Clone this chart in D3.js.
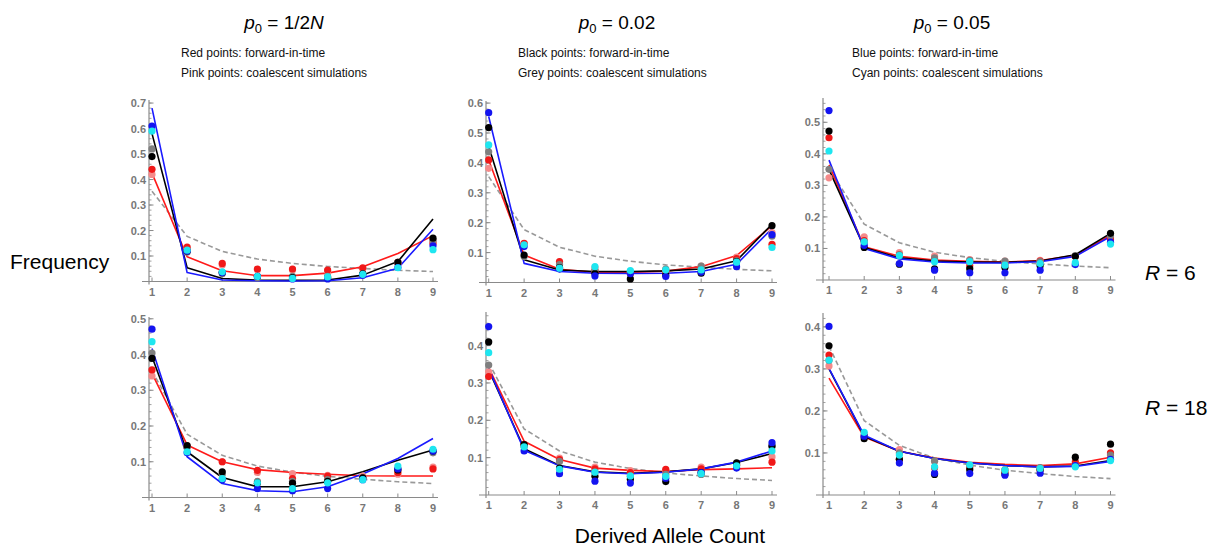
<!DOCTYPE html>
<html><head><meta charset="utf-8">
<script src="https://cdn.jsdelivr.net/npm/d3@7"></script>
<style>
html,body{margin:0;padding:0;background:#fff;}
svg{display:block;font-family:"Liberation Sans",Arial,Helvetica,sans-serif;}
</style></head>
<body>
<svg id="chart" width="1229" height="552"></svg>
<script>
// ---------- DATA ----------
const counts = [1,2,3,4,5,6,7,8,9];
const neutral = [0.354,0.177,0.118,0.088,0.071,0.059,0.051,0.044,0.039];

const colTitles = [["1/2", "N"], ["0.02", ""], ["0.05", ""]];
const subtitle1 = ["Red points: forward-in-time", "Black points: forward-in-time", "Blue points: forward-in-time"];
const subtitle2 = ["Pink points: coalescent simulations", "Grey points: coalescent simulations", "Cyan points: coalescent simulations"];
const rowLabels = ["6", "18"];

const yTicks = [
  [0.1,0.2,0.3,0.4,0.5,0.6,0.7],
  [0.1,0.2,0.3,0.4,0.5,0.6],
  [0.1,0.2,0.3,0.4,0.5],
  [0.1,0.2,0.3,0.4,0.5],
  [0.1,0.2,0.3,0.4],
  [0.1,0.2,0.3,0.4]
];
const yMax = [0.712, 0.607, 0.577, 0.505, 0.49, 0.433];

const redLine = [
  [0.425,0.097,0.042,0.023,0.023,0.033,0.058,0.11,0.18],
  [0.41,0.092,0.044,0.034,0.034,0.038,0.053,0.09,0.19],
  [0.365,0.105,0.075,0.063,0.059,0.057,0.062,0.078,0.142],
  [0.347,0.147,0.1,0.078,0.07,0.065,0.061,0.06,0.06],
  [0.341,0.144,0.095,0.072,0.066,0.063,0.068,0.07,0.073],
  [0.278,0.138,0.104,0.088,0.078,0.073,0.07,0.074,0.09]
];
const blackLine = [
  [0.58,0.054,0.012,0.005,0.005,0.006,0.025,0.078,0.245],
  [0.455,0.076,0.042,0.037,0.037,0.039,0.045,0.073,0.195],
  [0.35,0.103,0.07,0.06,0.057,0.056,0.06,0.08,0.148],
  [0.394,0.128,0.056,0.03,0.03,0.044,0.072,0.104,0.133],
  [0.335,0.124,0.079,0.062,0.058,0.062,0.07,0.087,0.111],
  [0.3,0.14,0.104,0.087,0.076,0.07,0.067,0.069,0.082]
];
const blueLine = [
  [0.68,0.035,0.006,0.003,0.002,0.003,0.015,0.052,0.205],
  [0.555,0.064,0.037,0.031,0.03,0.031,0.037,0.061,0.18],
  [0.38,0.1,0.067,0.057,0.054,0.054,0.058,0.075,0.138],
  [0.417,0.114,0.039,0.019,0.016,0.03,0.066,0.109,0.165],
  [0.339,0.12,0.078,0.061,0.057,0.061,0.07,0.088,0.118],
  [0.301,0.142,0.104,0.087,0.076,0.07,0.067,0.068,0.08]
];

const redPts = [
  [0.44,0.135,0.071,0.049,0.049,0.045,0.054,0.075,0.15],
  [0.41,0.131,0.07,0.04,0.03,0.035,0.045,0.08,0.128],
  [0.451,0.125,0.08,0.065,0.045,0.05,0.06,0.075,0.13],
  [0.357,0.142,0.1,0.076,0.053,0.06,0.055,0.07,0.08],
  [0.317,0.135,0.095,0.07,0.06,0.069,0.07,0.08,0.088],
  [0.333,0.14,0.085,0.065,0.065,0.055,0.06,0.079,0.1]
];
const pinkPts = [
  [0.42,0.13,0.065,0.045,0.045,0.04,0.05,0.07,0.16],
  [0.382,0.13,0.065,0.05,0.035,0.04,0.055,0.085,0.167],
  [0.324,0.137,0.087,0.076,0.065,0.06,0.062,0.075,0.135],
  [0.34,0.145,0.1,0.07,0.067,0.062,0.06,0.065,0.085],
  [0.33,0.13,0.099,0.075,0.065,0.065,0.075,0.08,0.102],
  [0.307,0.145,0.108,0.08,0.07,0.06,0.065,0.07,0.095]
];
const blackPts = [
  [0.49,0.12,0.035,0.02,0.015,0.015,0.03,0.075,0.17],
  [0.518,0.092,0.05,0.03,0.012,0.025,0.031,0.07,0.19],
  [0.472,0.103,0.05,0.035,0.036,0.04,0.045,0.075,0.148],
  [0.389,0.145,0.072,0.04,0.04,0.045,0.055,0.077,0.13],
  [0.41,0.135,0.072,0.05,0.042,0.036,0.06,0.086,0.13],
  [0.355,0.134,0.085,0.049,0.06,0.05,0.06,0.09,0.121]
];
const greyPts = [
  [0.52,0.115,0.03,0.015,0.02,0.02,0.03,0.075,0.16],
  [0.437,0.087,0.06,0.04,0.035,0.045,0.055,0.072,0.155],
  [0.351,0.12,0.08,0.07,0.062,0.06,0.058,0.077,0.14],
  [0.404,0.14,0.065,0.045,0.045,0.05,0.055,0.08,0.125],
  [0.348,0.13,0.09,0.06,0.05,0.055,0.055,0.08,0.133],
  [0.32,0.14,0.1,0.081,0.07,0.06,0.065,0.07,0.095]
];
const bluePts = [
  [0.61,0.12,0.035,0.02,0.01,0.01,0.025,0.055,0.14],
  [0.568,0.12,0.045,0.022,0.03,0.02,0.035,0.053,0.16],
  [0.537,0.11,0.052,0.031,0.023,0.023,0.031,0.049,0.12],
  [0.471,0.125,0.05,0.025,0.019,0.025,0.05,0.08,0.13],
  [0.451,0.118,0.057,0.037,0.032,0.045,0.06,0.072,0.14],
  [0.401,0.14,0.076,0.052,0.051,0.047,0.052,0.07,0.085]
];
const cyanPts = [
  [0.59,0.123,0.038,0.02,0.012,0.018,0.028,0.054,0.125],
  [0.46,0.126,0.048,0.053,0.04,0.042,0.042,0.068,0.117],
  [0.409,0.121,0.077,0.058,0.058,0.047,0.052,0.055,0.114],
  [0.436,0.128,0.053,0.041,0.025,0.041,0.05,0.088,0.135],
  [0.381,0.129,0.069,0.061,0.051,0.05,0.057,0.078,0.118],
  [0.321,0.149,0.095,0.067,0.072,0.059,0.063,0.067,0.082]
];

// ---------- LAYOUT ----------
const layout = [
  {ax:149, x1:152, x9:433, y0:281.5, yt:100},
  {ax:486, x1:488.7, x9:772, y0:282.5, yt:101},
  {ax:823, x1:829, x9:1110.5, y0:280, yt:98},
  {ax:149, x1:152, x9:433, y0:497.5, yt:317},
  {ax:486, x1:488.7, x9:772, y0:495, yt:312},
  {ax:823, x1:829, x9:1110.5, y0:495, yt:313}
];

const svg = d3.select("#chart");
const axisCol = "#8a8a8a";
const labCol = "#777";

const lineSeries = [
  {data: redLine, color: "#ff1a1a"},
  {data: blackLine, color: "#000000"},
  {data: blueLine, color: "#1a1aff"}
];
const ptSeries = [
  {data: pinkPts, color: "#f58a8a"},
  {data: redPts, color: "#f01818"},
  {data: greyPts, color: "#7f7f7f"},
  {data: blackPts, color: "#000000"},
  {data: bluePts, color: "#1414f0"},
  {data: cyanPts, color: "#1ee6f0"}
];

layout.forEach((L, i) => {
  const g = svg.append("g");
  const x = d3.scaleLinear().domain([1, 9]).range([L.x1, L.x9]);
  const y = d3.scaleLinear().domain([0, yMax[i]]).range([L.y0, L.yt]);

  g.append("line").attr("x1", L.ax - 7).attr("x2", L.x9 + 5).attr("y1", L.y0).attr("y2", L.y0)
    .attr("stroke", axisCol).attr("stroke-width", 1.2);
  g.append("line").attr("x1", L.ax).attr("x2", L.ax).attr("y1", L.y0 + 3).attr("y2", L.yt)
    .attr("stroke", axisCol).attr("stroke-width", 1.2);

  counts.forEach(c => {
    g.append("line").attr("x1", x(c)).attr("x2", x(c)).attr("y1", L.y0).attr("y2", L.y0 - 4)
      .attr("stroke", axisCol).attr("stroke-width", 1);
    g.append("text").attr("x", x(c)).attr("y", L.y0 + 14).attr("text-anchor", "middle")
      .attr("font-size", 11).attr("font-weight", "bold").attr("fill", labCol).text(c);
  });
  const minors = d3.range(0.02, yMax[i], 0.02);
  minors.forEach(v => {
    g.append("line").attr("x1", L.ax).attr("x2", L.ax + 2.5).attr("y1", y(v)).attr("y2", y(v))
      .attr("stroke", axisCol).attr("stroke-width", 0.8);
  });
  yTicks[i].forEach(v => {
    g.append("line").attr("x1", L.ax).attr("x2", L.ax + 4.5).attr("y1", y(v)).attr("y2", y(v))
      .attr("stroke", axisCol).attr("stroke-width", 1);
    g.append("text").attr("x", L.ax - 3).attr("y", y(v) + 4).attr("text-anchor", "end")
      .attr("font-size", 11).attr("font-weight", "bold").attr("fill", labCol).text(d3.format(".1f")(v));
  });

  const line = d3.line().x((d, k) => x(counts[k])).y(d => y(d));
  g.append("path").datum(neutral).attr("d", line).attr("fill", "none")
    .attr("stroke", "#999").attr("stroke-width", 1.6).attr("stroke-dasharray", "5,3");
  lineSeries.forEach(s => {
    g.append("path").datum(s.data[i]).attr("d", line).attr("fill", "none")
      .attr("stroke", s.color).attr("stroke-width", 1.6).attr("stroke-linejoin", "round");
  });
  ptSeries.forEach(s => {
    g.selectAll(null).data(s.data[i]).enter().append("circle")
      .attr("cx", (d, k) => x(counts[k])).attr("cy", d => y(d)).attr("r", 3.6)
      .attr("fill", s.color);
  });
});

// ---------- TEXT ----------
const colCenters = [284, 617, 952];
const subLeft = [181, 518, 852];
colTitles.forEach((t, j) => {
  const tx = svg.append("text").attr("x", colCenters[j]).attr("y", 29).attr("text-anchor", "middle")
    .attr("font-size", 19).attr("fill", "#000");
  tx.append("tspan").attr("font-style", "italic").text("p");
  tx.append("tspan").attr("font-size", 13).attr("dy", 4).text("0");
  tx.append("tspan").attr("dy", -4).text(" = " + t[0]);
  if (t[1]) tx.append("tspan").attr("font-style", "italic").text(t[1]);
  svg.append("text").attr("x", subLeft[j]).attr("y", 57).attr("font-size", 12).attr("fill", "#111").text(subtitle1[j]);
  svg.append("text").attr("x", subLeft[j]).attr("y", 77).attr("font-size", 12).attr("fill", "#111").text(subtitle2[j]);
});

const rowY = [280, 415];
rowLabels.forEach((r, j) => {
  const tx = svg.append("text").attr("x", 1145).attr("y", rowY[j]).attr("font-size", 21).attr("fill", "#000");
  tx.append("tspan").attr("font-style", "italic").text("R");
  tx.append("tspan").text(" = " + r);
});

svg.append("text").attr("x", 10).attr("y", 269).attr("font-size", 21).attr("fill", "#000").text("Frequency");
svg.append("text").attr("x", 670).attr("y", 543).attr("text-anchor", "middle").attr("font-size", 21).attr("fill", "#000").text("Derived Allele Count");
</script>
</body></html>
